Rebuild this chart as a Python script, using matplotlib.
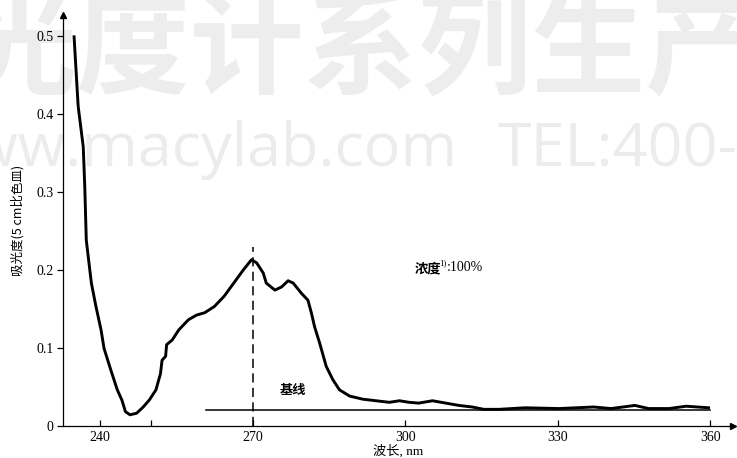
import matplotlib
matplotlib.use("Agg")
import matplotlib.pyplot as plt

# absorption spectrum (nm, absorbance)
wavelength = [234.9, 235.7, 236.7, 237.0, 237.3, 238.3, 239.2, 240.2, 240.8, 242.1,
              243.4, 244.3, 245.0, 245.9, 247.2, 248.5, 249.7, 251.0, 251.9, 252.2,
              252.9, 253.1, 254.2, 255.5, 257.4, 259.0, 260.6, 262.5, 264.4, 266.3,
              268.2, 269.8, 270.8, 272.1, 272.7, 274.4, 275.7, 277.0, 278.0, 279.6,
              280.9, 281.6, 282.2, 283.2, 284.5, 285.8, 287.1, 289.1, 291.7, 294.3,
              296.9, 298.9, 300.8, 302.7, 305.4, 308.0, 310.6, 313.2, 315.5, 318.5,
              323.6, 330.3, 337.1, 340.5, 345.2, 347.9, 351.9, 355.3, 359.7]
absorbance = [0.499, 0.410, 0.358, 0.307, 0.238, 0.183, 0.153, 0.123, 0.099, 0.072,
              0.046, 0.033, 0.018, 0.014, 0.016, 0.024, 0.033, 0.046, 0.067, 0.084,
              0.089, 0.104, 0.110, 0.123, 0.136, 0.142, 0.145, 0.153, 0.166, 0.183,
              0.200, 0.213, 0.209, 0.196, 0.183, 0.174, 0.178, 0.186, 0.183, 0.170,
              0.161, 0.144, 0.127, 0.106, 0.076, 0.059, 0.046, 0.038, 0.034, 0.032,
              0.030, 0.032, 0.030, 0.029, 0.032, 0.029, 0.026, 0.024, 0.021, 0.021,
              0.023, 0.022, 0.024, 0.022, 0.026, 0.022, 0.022, 0.025, 0.023]

baseline_x = [260.8, 360.0]
baseline_y = 0.020
peak_nm = 270.0
peak_line_top = 0.229

xticks = [240, 270, 300, 330, 360]
yticks = [0, 0.1, 0.2, 0.3, 0.4, 0.5]
ytick_labels = ["0", "0.1", "0.2", "0.3", "0.4", "0.5"]

serif = ["Liberation Serif", "Noto Sans CJK SC"]
cjk = ["Noto Sans CJK SC", "Liberation Serif"]

fig = plt.figure(figsize=(7.37, 4.58), dpi=100)
W, H = 737, 458

# faint background lettering
fig.text(-38 / W, 1 - 52 / H, "光度计系列生产", family=cjk, fontsize=82,
         weight="bold", color="#ededed", ha="left", va="center", zorder=0)
fig.text(457 / W, 1 - 166 / H, "www.macylab.com", family=["Open Sans"], fontsize=44,
         color="#ececec", ha="right", va="baseline", zorder=0)
fig.text(498 / W, 1 - 166 / H, "TEL:400-", family=["Open Sans"], fontsize=44,
         color="#ececec", ha="left", va="baseline", zorder=0)

ax = fig.add_axes([63 / W, 32.3 / H, 670 / W, 410.7 / H])
ax.set_zorder(1)
ax.patch.set_alpha(0)

ax.plot(wavelength, absorbance, color="black", lw=2.1, solid_joinstyle="round")
ax.plot(baseline_x, [baseline_y, baseline_y], color="black", lw=1.1)
ax.plot([peak_nm, peak_nm], [0, peak_line_top], color="black", lw=1.1,
        dashes=(6, 3.5))

ax.set_xlim(232.72, 364.5)
ax.set_ylim(0, 0.527)

for s in ["top", "right"]:
    ax.spines[s].set_visible(False)
for s in ["left", "bottom"]:
    ax.spines[s].set_linewidth(0.9)

# arrow heads on the axes
ax.plot(1, 0, marker=">", color="black", ms=5, transform=ax.transAxes, clip_on=False)
ax.plot(0, 1, marker="^", color="black", ms=5, transform=ax.transAxes, clip_on=False)

ax.set_xticks(xticks)
ax.set_xticks([250], minor=True)
ax.set_yticks(yticks)
ax.set_yticklabels(ytick_labels)
ax.tick_params(axis="x", which="both", direction="in", length=4, width=0.9, pad=4)
ax.tick_params(axis="y", direction="out", length=4, width=0.9, pad=3)
for lab in ax.get_xticklabels() + ax.get_yticklabels():
    lab.set_family(serif)
    lab.set_fontsize(10)

ax.set_xlabel("波长, nm", family=serif, fontsize=9.5, labelpad=0)
ax.set_ylabel("吸光度(5 cm比色皿)", family=cjk, fontsize=9, labelpad=8)

t1 = ax.text(301.8, 0.202, "浓度", family=cjk, fontsize=9.5, weight="bold",
             ha="left", va="center")
t2 = ax.annotate("1)", xy=(0.96, 0.55), xycoords=t1, family=serif, fontsize=6.5,
                 ha="left", va="bottom")
ax.annotate(":100%", xy=(1, 0.12), xycoords=(t2, t1), family=serif, fontsize=10,
            ha="left", va="bottom")
ax.text(278.0, 0.046, "基线", family=cjk, fontsize=9.5, weight="bold",
        ha="center", va="center")

fig.savefig("out.png", dpi=100)
